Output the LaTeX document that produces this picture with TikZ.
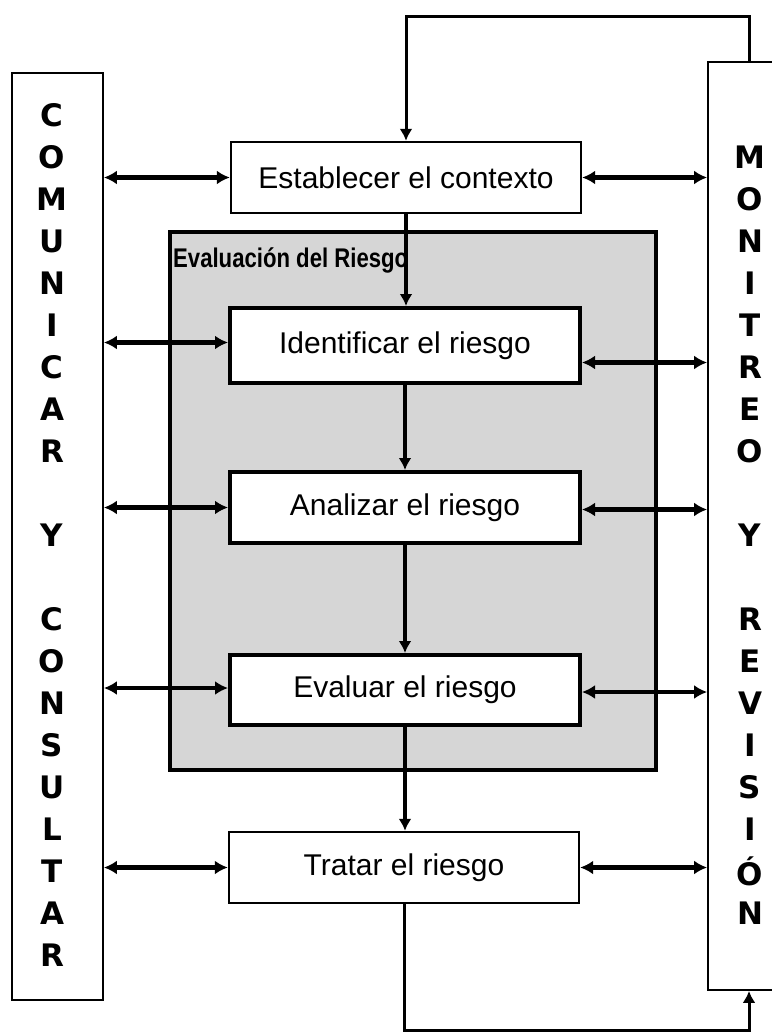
\documentclass[tikz,border=0pt]{standalone}
\usepackage{fontspec}
\setmainfont{Liberation Sans}
\newfontfamily\colfont{DejaVu Sans}
\usetikzlibrary{arrows.meta}
\begin{document}
\begin{tikzpicture}[x=1pt,y=-1pt,
  stepbox/.style={draw, line width=2.4pt, fill=white, minimum width=350pt, inner sep=0pt,
    font=\fontsize{30}{30}\selectfont},
  innerbox/.style={stepbox, line width=4pt},
  column/.style={draw, line width=1.8pt, fill=white, inner sep=0pt},
  colletter/.style={font=\colfont\bfseries\fontsize{31}{31}\selectfont, inner sep=0pt},
  dbl/.style={line width=4.6pt, {Latex[length=13pt,width=14pt]}-{Latex[length=13pt,width=14pt]}},
  flow/.style={line width=3.4pt, -{Latex[length=12pt,width=13pt]}},
  loopline/.style={line width=3pt, -{Latex[length=12pt,width=13pt]}},
]
\useasboundingbox (0,0) rectangle (771,1033);

% risk assessment frame
\node[draw, line width=4pt, fill=black!16, minimum width=486pt, minimum height=538pt, inner sep=0pt]
  (evalframe) at (413,501) {};
\node[anchor=base west, inner sep=0pt, font=\bfseries\fontsize{27}{27}\selectfont]
  (evaltitle) at (173,267) {\scalebox{0.82}[1]{Evaluación del Riesgo}};

% side columns
\node[column, minimum width=91pt, minimum height=927pt] (com) at (57.5,536.5) {};
\node[column, minimum width=82pt, minimum height=928pt] (mon) at (749,526) {};

\foreach \ch/\k in {C/0,O/1,M/2,U/3,N/4,I/5,C/6,A/7,R/8,Y/10,C/12,O/13,N/14,S/15,U/16,L/17,T/18,A/19,R/20}
  \node[colletter] (cl\k) at (52,115+42*\k) {\ch};
\foreach \ch/\k in {M/0,O/1,N/2,I/3,T/4,R/5,E/6,O/7,Y/9,R/11,E/12,V/13,I/14,S/15,I/16,Ó/17,N/18}
  \node[colletter] (ml\k) at (750,157+42*\k) {\ch};

% process boxes
\node[stepbox, minimum height=71pt] (est) at (406,177.5) {Establecer el contexto};
\node[innerbox, minimum height=75pt] (ide) at (405,345.5) {Identificar el riesgo};
\node[innerbox, minimum height=71pt] (ana) at (405,507.5) {Analizar el riesgo};
\node[innerbox, minimum height=70pt] (eva) at (405,690) {Evaluar el riesgo};
\node[stepbox, minimum height=71pt] (tra) at (404,867.5) {Tratar el riesgo};

% vertical flow
\draw[flow] (est.south) -- (est.south |- ide.north);
\draw[flow] (ide.south) -- (ana.north);
\draw[flow] (ana.south) -- (eva.north);
\draw[flow] (eva.south) -- (eva.south |- tra.north);

% communication arrows
\draw[dbl] (com.east |- est.west) -- (est.west);
\draw[dbl] ([yshift=3pt]com.east |- ide.west) -- ([yshift=3pt]ide.west);
\draw[dbl] (com.east |- ana.west) -- (ana.west);
\draw[dbl] ([yshift=2pt]com.east |- eva.west) -- ([yshift=2pt]eva.west);
\draw[dbl] (com.east |- tra.west) -- (tra.west);

% monitoring arrows
\draw[dbl] (est.east) -- (mon.west |- est.east);
\draw[dbl] ([yshift=-17pt]ide.east) -- ([yshift=-17pt]mon.west |- ide.east);
\draw[dbl] ([yshift=-2pt]ana.east) -- ([yshift=-2pt]mon.west |- ana.east);
\draw[dbl] ([yshift=-2pt]eva.east) -- ([yshift=-2pt]mon.west |- eva.east);
\draw[dbl] (tra.east) -- (mon.west |- tra.east);

% feedback loops
\draw[loopline] (mon.north) -- ++(0,-45) -| (est.north);
\draw[loopline] (tra.south) -- ++(0,126) -| (mon.south);
\end{tikzpicture}
\end{document}
